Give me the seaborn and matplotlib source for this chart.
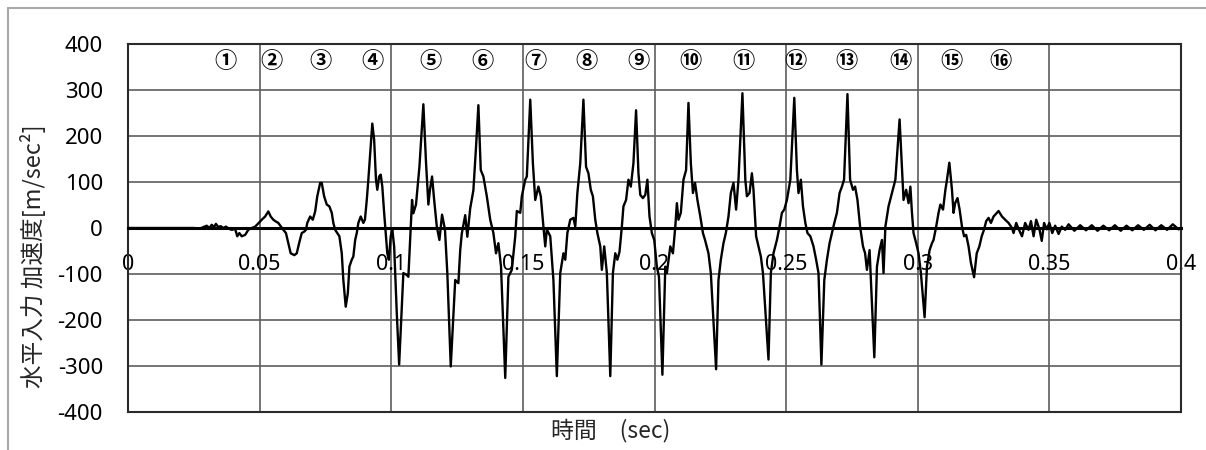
import numpy as np
import pandas as pd
import matplotlib
matplotlib.use("Agg")
import matplotlib.pyplot as plt
from matplotlib.lines import Line2D
import seaborn as sns

# horizontal input acceleration (sec, m/sec^2)
time_s = [
    # onset
    0.0, 0.0247, 0.0274, 0.0299, 0.0309, 0.0318, 0.0327, 0.0334, 0.0343, 0.0352, 0.0362,
    0.0372, 0.0385, 0.0394, 0.0407, 0.0415, 0.0423, 0.0432, 0.0445, 0.0457, 0.0470,
    0.0483, 0.0495, 0.0508, 0.0521, 0.0533, 0.0542, 0.0552, 0.0562, 0.0571, 0.0580,
    0.0590, 0.0600, 0.0609, 0.0618, 0.0632, 0.0641, 0.0650, 0.0660, 0.0669, 0.0676,
    0.0681, 0.0692, 0.0702, 0.0711, 0.0719, 0.0730, 0.0736, 0.0745, 0.0755, 0.0765,
    0.0774, 0.0780, 0.0787, 0.0795, 0.0803, 0.0812, 0.0818, 0.0827, 0.0835, 0.0841,
    0.0850, 0.0856, 0.0863, 0.0869,
    0.0875, 0.0884, 0.0894, 0.0900, 0.0907, 0.0913, 0.0920, 0.0928, 0.0935, 0.0942,
    0.0947, 0.0954, 0.0960, 0.0966, 0.0973, 0.0979, 0.0985, 0.0991, 0.0998, 0.1004,
    0.1011, 0.1021, 0.1030,
    # cycle 5
    0.1046, 0.1059, 0.1065, 0.1074, 0.1079, 0.1084, 0.1094, 0.1107, 0.1122, 0.1132,
    0.1141, 0.1147, 0.1155, 0.1163, 0.1173, 0.1183, 0.1193, 0.1204, 0.1213, 0.1226,
    # cycle 6
    0.1243, 0.1255, 0.1262, 0.1268, 0.1281, 0.1289, 0.1300, 0.1312, 0.1322, 0.1331,
    0.1340, 0.1350, 0.1363, 0.1376, 0.1388, 0.1398, 0.1407, 0.1417, 0.1433,
    # cycle 7
    0.1445, 0.1458, 0.1471, 0.1477, 0.1490, 0.1496, 0.1509, 0.1515, 0.1528, 0.1538,
    0.1547, 0.1559, 0.1568, 0.1578, 0.1585, 0.1591, 0.1604, 0.1616, 0.1629,
    # cycle 8
    0.1642, 0.1654, 0.1661, 0.1669, 0.1680, 0.1692, 0.1699, 0.1707, 0.1718, 0.1730,
    0.1740, 0.1749, 0.1758, 0.1766, 0.1775, 0.1783, 0.1794, 0.1800, 0.1809, 0.1819, 0.1832,
    # cycle 9
    0.1842, 0.1851, 0.1859, 0.1867, 0.1876, 0.1882, 0.1892, 0.1901, 0.1910, 0.1920,
    0.1930, 0.1939, 0.1946, 0.1956, 0.1965, 0.1973, 0.1981, 0.1990, 0.1999, 0.2009,
    0.2017, 0.2030,
    # cycle 10
    0.2041, 0.2047, 0.2060, 0.2070, 0.2079, 0.2085, 0.2091, 0.2100, 0.2110, 0.2120,
    0.2129, 0.2138, 0.2146, 0.2154, 0.2163, 0.2174, 0.2184, 0.2192, 0.2205, 0.2214, 0.2234,
    # cycle 11
    0.2243, 0.2252, 0.2262, 0.2271, 0.2281, 0.2290, 0.2300, 0.2310, 0.2319, 0.2334,
    0.2345, 0.2351, 0.2361, 0.2370, 0.2376, 0.2386, 0.2395, 0.2404, 0.2412, 0.2433,
    # cycle 12
    0.2442, 0.2452, 0.2465, 0.2475, 0.2484, 0.2493, 0.2503, 0.2516, 0.2531, 0.2541,
    0.2547, 0.2556, 0.2564, 0.2573, 0.2581, 0.2592, 0.2604, 0.2614, 0.2623, 0.2634,
    # cycle 13
    0.2645, 0.2655, 0.2665, 0.2674, 0.2683, 0.2693, 0.2703, 0.2712, 0.2720, 0.2733,
    0.2743, 0.2754, 0.2762, 0.2771, 0.2781, 0.2792, 0.2800, 0.2807, 0.2817, 0.2835,
    # cycle 14
    0.2845, 0.2855, 0.2864, 0.2870, 0.2877, 0.2889, 0.2902, 0.2915, 0.2931, 0.2946,
    0.2956, 0.2965, 0.2972, 0.2978, 0.2984, 0.2994, 0.3003, 0.3012, 0.3026,
    # cycle 15
    0.3035, 0.3045, 0.3054, 0.3060, 0.3070, 0.3079, 0.3086, 0.3096, 0.3105, 0.3111,
    0.3120, 0.3130, 0.3136, 0.3142, 0.3151, 0.3159, 0.3168, 0.3176, 0.3184, 0.3193,
    0.3202, 0.3214,
    # settling
    0.3224, 0.3234, 0.3243, 0.3252, 0.3260, 0.3269, 0.3278, 0.3288, 0.3307, 0.3320,
    0.3332, 0.3345, 0.3358, 0.3364, 0.3374, 0.3383, 0.3396, 0.3408, 0.3421, 0.3430,
    0.3440, 0.3450, 0.3462, 0.3471, 0.3480, 0.3490, 0.3500, 0.3511, 0.3522, 0.3535,
    0.3547, 0.3560, 0.3573,
    # residual ripple
    0.3595, 0.3617, 0.3639, 0.3661, 0.3683, 0.3705, 0.3727, 0.3749, 0.3771, 0.3793,
    0.3815, 0.3837, 0.3859, 0.3881, 0.3903, 0.3925, 0.3947, 0.3969, 0.3991, 0.4000,
]

accel = [
    # onset
    0, 0, -1, 5, 0, 7, 2, 9, 2, 4, 0,
    3, -2, -4, -2, -18, -11, -18, -15, -4, 0,
    3, 10, 18, 25, 36, 25, 18, 14, 11, 4,
    -4, -11, -33, -55, -59, -55, -33, -11, -8, -4,
    11, 25, 18, 36, 69, 98, 98, 69, 51, 47,
    33, 11, -4, -11, -18, -55, -113, -171, -142, -84,
    -69, -62, -26, -11,
    11, 25, 11, 18, 61, 105, 163, 227, 192, 105,
    83, 112, 116, 90, 33, -11, -55, -69, -18, -3,
    -40, -185, -297,
    # cycle 5
    -98, -102, -106, 0, 61, 32, 51, 133, 269, 143,
    51, 83, 112, 61, 3, -26, 29, -3, -98, -301,
    # cycle 6
    -113, -120, -48, -12, 28, -19, 43, 82, 176, 267,
    126, 112, 69, 18, -11, -55, -33, -84, -326,
    # cycle 7
    -106, -91, -18, 37, 33, 69, 105, 112, 279, 141,
    61, 90, 69, 3, -40, -3, -18, -113, -322,
    # cycle 8
    -98, -55, -69, -11, 18, 22, 3, 76, 141, 279,
    133, 119, 83, 69, 18, -11, -40, -91, -40, -98, -322,
    # cycle 9
    -98, -55, -69, -52, 3, 47, 61, 105, 90, 141,
    256, 119, 72, 65, 72, 105, 25, -11, -26, -84,
    -106, -319,
    # cycle 10
    -84, -98, -40, -55, 3, 54, 18, 33, 105, 126,
    272, 141, 76, 98, 61, 25, -11, -26, -55, -98, -307,
    # cycle 11
    -113, -69, -33, -11, 25, 76, 98, 40, 105, 293,
    105, 69, 76, 119, 83, -18, -40, -62, -98, -286,
    # cycle 12
    -98, -55, -26, 3, 33, 40, 61, 105, 283, 126,
    76, 105, 47, 11, -11, -18, -40, -69, -98, -297,
    # cycle 13
    -113, -69, -33, -11, 11, 33, 76, 90, 105, 291,
    105, 83, 90, 61, 3, -40, -55, -91, -48, -281,
    # cycle 14
    -84, -48, -26, -98, 3, 47, 76, 105, 236, 61,
    83, 54, 90, 33, -11, -33, -55, -98, -194,
    # cycle 15
    -84, -48, -33, -26, 3, 33, 51, 40, 83, 105,
    142, 83, 33, 54, 65, 40, 3, -18, -15, -40,
    -76, -107,
    # settling
    -55, -40, -18, -3, 15, 22, 11, 25, 37, 25,
    18, 11, 0, -11, 11, -2, -18, 11, -4, 15,
    -18, 18, -2, -28, 11, -3, 11, -11, 5, -13,
    3, -4, 8,
    # residual ripple
    -6, 6, -5, 6, -6, 5, -5, 6, -6, 5,
    -5, 6, -4, 7, -5, 6, -4, 8, -3, 0,
]

# circled cycle numbers along the top of the plot
cycle_labels = ["①", "②", "③", "④", "⑤", "⑥", "⑦", "⑧",
                "⑨", "⑩", "⑪", "⑫", "⑬", "⑭", "⑮", "⑯"]
cycle_times = [0.0369, 0.0547, 0.0730, 0.0927, 0.1148, 0.1345, 0.1547, 0.1740,
               0.1938, 0.2135, 0.2337, 0.2534, 0.2731, 0.2933, 0.3127, 0.3313]

x_ticks = [0, 0.05, 0.1, 0.15, 0.2, 0.25, 0.3, 0.35, 0.4]
x_tick_labels = ["0", "0.05", "0.1", "0.15", "0.2", "0.25", "0.3", "0.35", "0.4"]
y_ticks = [-400, -300, -200, -100, 0, 100, 200, 300, 400]

df = pd.DataFrame({"time": time_s, "accel": accel})

sns.set_style("white")
plt.rcParams['font.family'] = ['Noto Sans', 'Noto Sans CJK JP', 'DejaVu Sans']

fig = plt.figure(figsize=(12.06, 4.5), dpi=100)
ax = fig.add_axes([128 / 1206, 38 / 450, 1053 / 1206, 368 / 450])

grid_col = '#5e5e5e'
frame_col = '#2a2a2a'

sns.lineplot(data=df, x="time", y="accel", ax=ax, color='black', lw=1.7,
             estimator=None, sort=False, zorder=3)

ax.set_xlim(0, 0.4)
ax.set_ylim(-400, 400)
ax.set_xticks(x_ticks)
ax.set_xticklabels(x_tick_labels)
ax.set_yticks(y_ticks)
ax.set_yticklabels([str(v) for v in y_ticks])
ax.grid(True, color=grid_col, lw=1.2)
ax.set_axisbelow(True)

# x axis crosses at zero, like the spreadsheet chart
ax.spines['bottom'].set_position(('data', 0))
ax.spines['bottom'].set_linewidth(2.2)
ax.spines['bottom'].set_color('black')
ax.spines['bottom'].set_zorder(2.5)
for side in ['left', 'right', 'top']:
    ax.spines[side].set_color(frame_col)
    ax.spines[side].set_linewidth(1.5)
ax.axhline(-400, color=frame_col, lw=1.5, clip_on=False)

ax.tick_params(axis='x', length=0, pad=19, labelsize=15.5, colors='black')
ax.tick_params(axis='y', length=0, pad=18, labelsize=16, colors='black')
for lab in ax.get_xticklabels():
    lab.set_zorder(5)

ax.set_ylabel("水平入力 加速度[m/sec²]", fontsize=17,
              family=['Noto Sans CJK JP', 'DejaVu Sans'])
ax.yaxis.set_label_coords(-0.090, 0.424)
ax.yaxis.label.set_va('center')

ax.set_xlabel("時間　(sec)", fontsize=16.5, family=['Noto Sans CJK JP', 'DejaVu Sans'])
ax.xaxis.set_label_coords(0.458, -0.049)
ax.xaxis.label.set_va('center')

for lab, t in zip(cycle_labels, cycle_times):
    ax.text(t, 362, lab, ha='center', va='center', fontsize=16, fontweight='bold',
            family=['Noto Sans CJK JP', 'DejaVu Sans'], color='black')

# outer chart border (only top and left edges are inside the crop)
border_col = '#a8a8a8'
fig.add_artist(Line2D([8 / 1206, 1.0], [1 - 8 / 450, 1 - 8 / 450],
                      color=border_col, lw=1.5, transform=fig.transFigure))
fig.add_artist(Line2D([8 / 1206, 8 / 1206], [0.0, 1 - 8 / 450],
                      color=border_col, lw=1.5, transform=fig.transFigure))

fig.savefig("out.png", dpi=100)
